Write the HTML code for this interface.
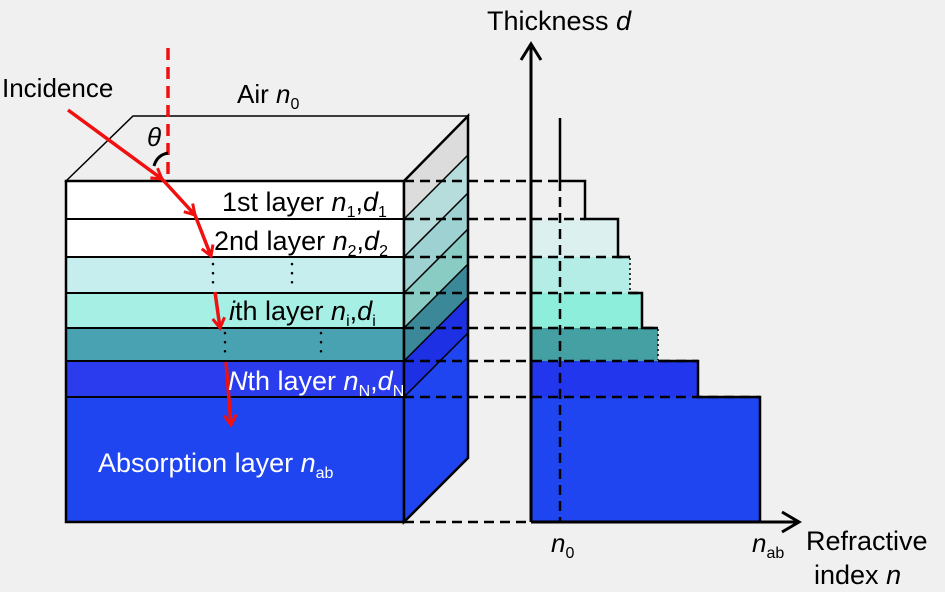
<!DOCTYPE html>
<html><head><meta charset="utf-8"><style>
html,body{margin:0;padding:0;background:#f0f0f0}
svg{display:block}
text{font-family:"Liberation Sans",sans-serif}
</style></head><body>
<svg width="945" height="592" viewBox="0 0 945 592" xmlns="http://www.w3.org/2000/svg">
<rect width="945" height="592" fill="#f0f0f0"/>
<defs>
<marker id="ar" markerWidth="16" markerHeight="16" refX="13" refY="8" orient="auto" markerUnits="userSpaceOnUse" viewBox="0 0 16 16"><path d="M3,2 L13,8 L3,14" fill="none" stroke="#f01010" stroke-width="3"/></marker>
</defs>
<!-- top face -->
<polygon points="66,181 133,116 468,116 404,181" fill="#efefef" stroke="#000" stroke-width="1.5"/>
<!-- front layers -->
<rect x="66" y="181" width="338" height="38" fill="#ffffff"/>
<rect x="66" y="219" width="338" height="38" fill="#ffffff"/>
<rect x="66" y="257" width="338" height="36" fill="#c6eeee"/>
<rect x="66" y="293" width="338" height="35" fill="#a6efe4"/>
<rect x="66" y="328" width="338" height="33" fill="#48a2b2"/>
<rect x="66" y="361" width="338" height="36" fill="#2a3cee"/>
<rect x="66" y="397" width="338" height="125" fill="#1f45f0"/>
<g stroke="#000" stroke-width="2">
<line x1="66" y1="219" x2="404" y2="219"/><line x1="66" y1="257" x2="404" y2="257"/>
<line x1="66" y1="293" x2="404" y2="293"/><line x1="66" y1="328" x2="404" y2="328"/>
<line x1="66" y1="361" x2="404" y2="361"/><line x1="66" y1="397" x2="404" y2="397"/>
</g>
<rect x="66" y="181" width="338" height="341" fill="none" stroke="#000" stroke-width="2.5"/>
<!-- side face -->
<polygon points="404,181 468,116 468,155 404,219" fill="#dcdcdc"/>
<polygon points="404,219 468,155 468,193 404,257" fill="#b6dcdc"/>
<polygon points="404,257 468,193 468,229 404,293" fill="#9ed2d2"/>
<polygon points="404,293 468,229 468,264 404,328" fill="#88ccc4"/>
<polygon points="404,328 468,264 468,297 404,361" fill="#3a8898"/>
<polygon points="404,361 468,297 468,333 404,397" fill="#1e30e4"/>
<polygon points="404,397 468,333 468,458 404,522" fill="#1f45f0"/>
<g stroke="#000" stroke-width="1.5">
<line x1="404" y1="219" x2="468" y2="155"/><line x1="404" y1="257" x2="468" y2="193"/>
<line x1="404" y1="293" x2="468" y2="229"/><line x1="404" y1="328" x2="468" y2="264"/>
<line x1="404" y1="361" x2="468" y2="297"/><line x1="404" y1="397" x2="468" y2="333"/>
</g>
<polygon points="404,181 468,116 468,458 404,522" fill="none" stroke="#000" stroke-width="2.5"/>
<!-- graph fills -->
<rect x="531" y="219" width="87" height="38" fill="#dcf0f0"/>
<rect x="531" y="257" width="99" height="36" fill="#b4ece6"/>
<rect x="531" y="293" width="111" height="35" fill="#8eeedc"/>
<rect x="531" y="328" width="127" height="33" fill="#44a0a2"/>
<rect x="531" y="361" width="167" height="36" fill="#2236ee"/>
<rect x="531" y="397" width="229" height="125" fill="#1f45f0"/>
<path d="M560,118 V181 H585 V219 H618 V257 H630 M630,293 H642 V328 H658 M658,361 H698 V397 H760 V522" fill="none" stroke="#000" stroke-width="2.5"/>
<g stroke="#000" stroke-width="1.5" stroke-dasharray="2,3"><line x1="630" y1="258" x2="630" y2="292"/><line x1="658" y1="329" x2="658" y2="360"/></g>
<!-- dashed guides -->
<g stroke="#000" stroke-width="2.5" stroke-dasharray="10,6">
<line x1="404" y1="181" x2="560" y2="181"/><line x1="404" y1="219" x2="585" y2="219"/>
<line x1="404" y1="257" x2="630" y2="257"/><line x1="404" y1="293" x2="642" y2="293"/>
<line x1="404" y1="328" x2="658" y2="328"/><line x1="404" y1="361" x2="698" y2="361"/>
<line x1="404" y1="397" x2="760" y2="397"/><line x1="404" y1="522" x2="531" y2="522"/>
<line x1="560" y1="181" x2="560" y2="522"/>
</g>
<!-- axes -->
<g stroke="#000" stroke-width="3" fill="none">
<line x1="531" y1="44" x2="531" y2="522"/><line x1="531" y1="522" x2="798" y2="522"/>
<polyline points="521,60 531,44 541,60"/><polyline points="782,512 799,522 782,532"/>
</g>
<!-- dots -->
<g stroke="#000" stroke-width="2.5" stroke-linecap="round" stroke-dasharray="0.1,9">
<line x1="213" y1="264" x2="213" y2="285"/><line x1="292" y1="264" x2="292" y2="285"/>
<line x1="225" y1="333" x2="225" y2="356"/><line x1="321" y1="333" x2="321" y2="356"/>
</g>
<!-- red -->
<line x1="168" y1="48" x2="168" y2="180" stroke="#f01010" stroke-width="3.5" stroke-dasharray="12,7"/>
<path d="M154,166 q3,-11 14,-13" fill="none" stroke="#000" stroke-width="3"/>
<g stroke="#f01010" stroke-width="3.5" fill="none" marker-end="url(#ar)">
<line x1="68" y1="110" x2="162" y2="179"/>
<line x1="162" y1="179" x2="195" y2="215"/>
<line x1="195" y1="215" x2="211" y2="256"/>
<line x1="215" y1="292" x2="220" y2="328"/>
<line x1="226" y1="362" x2="231" y2="425"/>
</g>
<!-- text -->
<g font-size="26" fill="#000">
<text x="2" y="97">Incidence</text>
<text x="237" y="103">Air <tspan font-style="italic">n</tspan><tspan font-size="16" dy="6">0</tspan></text>
<text x="147" y="146" font-style="italic">θ</text>
<text x="487" y="30" font-size="27">Thickness <tspan font-style="italic">d</tspan></text>
<text x="222" y="211" font-size="27">1st layer <tspan font-style="italic">n</tspan><tspan font-size="16" dy="6">1</tspan><tspan dy="-6">,</tspan><tspan font-style="italic">d</tspan><tspan font-size="16" dy="6">1</tspan></text>
<text x="214" y="250" font-size="27">2nd layer <tspan font-style="italic">n</tspan><tspan font-size="16" dy="6">2</tspan><tspan dy="-6">,</tspan><tspan font-style="italic">d</tspan><tspan font-size="16" dy="6">2</tspan></text>
<text x="229" y="320" font-size="27"><tspan font-style="italic">i</tspan>th layer <tspan font-style="italic">n</tspan><tspan font-size="16" dy="6">i</tspan><tspan dy="-6">,</tspan><tspan font-style="italic">d</tspan><tspan font-size="16" dy="6">i</tspan></text>
<text x="228" y="390" font-size="27" fill="#fff"><tspan font-style="italic">N</tspan>th layer <tspan font-style="italic">n</tspan><tspan font-size="16" dy="6">N</tspan><tspan dy="-6">,</tspan><tspan font-style="italic">d</tspan><tspan font-size="16" dy="6">N</tspan></text>
<text x="98" y="472" font-size="27" fill="#fff">Absorption layer <tspan font-style="italic">n</tspan><tspan font-size="16" dy="6">ab</tspan></text>
<text x="551" y="552" font-style="italic">n<tspan font-size="16" font-style="normal" dy="6">0</tspan></text>
<text x="752" y="552" font-style="italic">n<tspan font-size="16" font-style="normal" dy="6">ab</tspan></text>
<text x="806" y="550" font-size="27">Refractive</text>
<text x="814" y="584" font-size="27">index <tspan font-style="italic">n</tspan></text>
</g>
</svg>
</body></html>
